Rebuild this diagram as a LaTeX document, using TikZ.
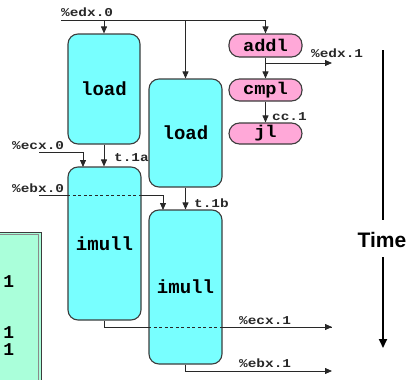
\documentclass[tikz,border=0pt]{standalone}
\usepackage{fontspec}
\setmainfont{Liberation Sans}
\newfontfamily\lblfont{Liberation Mono}[FakeStretch=1.2]
\newfontfamily\boxfont{Liberation Mono}
\newfontfamily\pinkfont{Liberation Mono}[FakeStretch=1.1]
\usetikzlibrary{arrows.meta,backgrounds}
\definecolor{cyanfill}{RGB}{120,255,255}
\definecolor{pinkfill}{RGB}{255,168,216}
\definecolor{greenfill}{RGB}{170,255,218}
\definecolor{edge}{RGB}{60,60,60}
\definecolor{wire}{RGB}{40,40,40}
\tikzset{
  unit/.style={draw=edge, line width=1.1pt, fill=cyanfill, rounded corners=10pt,
    inner sep=0pt, font=\boxfont\bfseries\fontsize{19}{19}\selectfont},
  pinkop/.style={draw=edge, line width=1.1pt, fill=pinkfill, rounded corners=10.5pt,
    inner sep=0pt, minimum width=73pt, font=\pinkfont\bfseries\fontsize{17}{17}\selectfont},
  lbl/.style={inner sep=0pt, text=wire, font=\lblfont\bfseries\fontsize{12}{12}\selectfont},
  digit/.style={inner sep=0pt, anchor=east, text height=12pt, text depth=0pt,
    font=\boxfont\bfseries\fontsize{18}{18}\selectfont},
  wireln/.style={draw=wire, line width=0.8pt},
  arr/.style={wireln, -{Triangle[length=7pt,width=6pt]}},
  dashwire/.style={draw=wire, line width=0.8pt, dash pattern=on 3pt off 2.5pt},
}
\begin{document}
\begin{tikzpicture}[x=1pt,y=-1pt]
\useasboundingbox (0,0) rectangle (408,380);
% green box (partially visible)
\draw[draw=edge, line width=0.7pt, fill=greenfill] (-5,232) rectangle (41,386);
\draw[draw=edge!60, line width=0.7pt] (-5,234.5) rectangle (38.5,386);
\node[digit] (g1) at (14.5,281) {1};
\node[digit] (g2) at (14.5,332) {1};
\node[digit] (g3) at (14.5,349) {1};

% units
\node[unit, minimum width=72pt, minimum height=110pt] (load1) at (104,89) {load};
\node[unit, minimum width=73pt, minimum height=108pt] (load2) at (185.5,133) {load};
\node[unit, minimum width=73pt, minimum height=153pt] (imull1) at (104.5,243.5) {imull};
\node[unit, minimum width=73pt, minimum height=154pt] (imull2) at (185.5,287) {imull};
\node[pinkop, minimum height=23pt] (addl) at (265.5,45.5) {addl};
\node[pinkop, minimum height=22pt] (cmpl) at (265.5,90) {cmpl};
\node[pinkop, minimum height=21pt] (jl) at (265.5,133.5) {jl};

% coordinates
\coordinate (edx0) at (61,20);
\coordinate (ecx0) at (39,152);
\coordinate (ecxin) at (83,167);
\coordinate (ebx0) at (39,195);
\coordinate (ebxin) at (163,210);
\coordinate (edx1) at (332,63);
\coordinate (ecx1) at (332,327);
\coordinate (ebx1) at (332,371);
\coordinate (timetop) at (383,50);
\coordinate (timemid1) at (383,220);
\coordinate (timemid2) at (383,257);
\coordinate (timebot) at (383,348);

% wires
\draw[arr] (edx0) -- (addl.north |- edx0) -- (addl.north);
\draw[arr] (load1.north |- edx0) -- (load1.north);
\draw[arr] (load2.north |- edx0) -- (load2.north);
\draw[arr] (ecx0) -- (ecxin |- ecx0) -- (ecxin);
\draw[arr] (load1.south) -- (load1.south |- imull1.north);
\begin{scope}[on background layer]
\draw[wireln] (ebx0) -- (ebxin |- ebx0);
\draw[wireln] (imull1.south) -- (imull1.south |- ecx1) -- (ecx1);
\end{scope}
\draw[arr] (ebxin |- ebx0) -- (ebxin);
\draw[dashwire] (imull1.west |- ebx0) -- (imull1.east |- ebx0);
\draw[arr] (load2.south) -- (load2.south |- imull2.north);
\draw[arr] (imull2.east |- ecx1) -- (ecx1);
\draw[dashwire] (imull2.west |- ecx1) -- (imull2.east |- ecx1);
\draw[arr] (imull2.south) -- (imull2.south |- ebx1) -- (ebx1);
\draw[arr] (addl.south) -- (cmpl.north);
\draw[arr] (addl.south |- edx1) -- (edx1);
\draw[arr] (cmpl.south) -- (jl.north);

% time
\draw[draw=black, line width=2pt] (timetop) -- (timemid1);
\draw[draw=black, line width=2pt, -{Triangle[length=9pt,width=8pt]}] (timemid2) -- (timebot);
\node[inner sep=0pt, font=\bfseries\fontsize{21}{21}\selectfont] (time) at (382,240) {Time};

% labels
\node[lbl, anchor=west] (ledx0) at (61,12.5) {\%edx.0};
\node[lbl, anchor=west] (ledx1) at (311,53) {\%edx.1};
\node[lbl, anchor=west] (lcc) at (272,117) {cc.1};
\node[lbl, anchor=west] (lecx0) at (12,146) {\%ecx.0};
\node[lbl, anchor=west] (lt1a) at (114,158) {t.1a};
\node[lbl, anchor=west] (lebx0) at (12,188) {\%ebx.0};
\node[lbl, anchor=west] (lt1b) at (194,203) {t.1b};
\node[lbl, anchor=west] (lecx1) at (239,321) {\%ecx.1};
\node[lbl, anchor=west] (lebx1) at (239,363) {\%ebx.1};
\end{tikzpicture}
\end{document}
